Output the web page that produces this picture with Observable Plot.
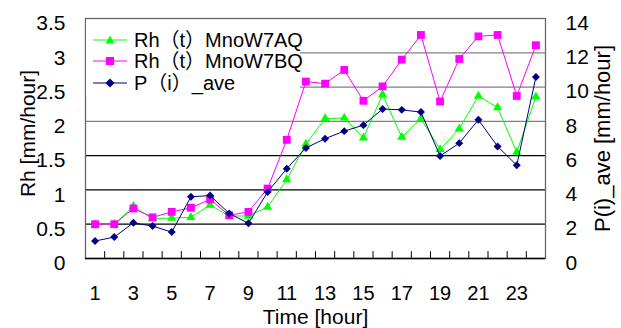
<!DOCTYPE html>
<html>
<head>
<meta charset="utf-8">
<script src="https://cdn.jsdelivr.net/npm/d3@7"></script>
<script src="https://cdn.jsdelivr.net/npm/@observablehq/plot@0.6"></script>
<style>
  html, body { margin: 0; padding: 0; background: #fff; }
  #wrap { position: relative; width: 621px; height: 328px; }
  #wrap svg { display: block; }
  #legend { position: absolute; left: 86px; top: 21px; width: 214px; height: 75px; background: #fff;
            font-family: "Liberation Sans", Arial, "Noto Sans CJK JP", sans-serif; font-size: 20px; color: #000; }
  .row { position: absolute; left: 0; height: 22px; display: flex; align-items: center; }
  .row svg { margin-left: 7px; margin-right: 7px; }
  .row span { line-height: 22px; white-space: nowrap; }
</style>
</head>
<body>
<div id="wrap"></div>
<script>
// ---- data ----
const hours = [1,2,3,4,5,6,7,8,9,10,11,12,13,14,15,16,17,18,19,20,21,22,23,24];
const rhAQ = [0.49,0.5,0.76,0.58,0.59,0.60,0.78,0.62,0.62,0.75,1.15,1.67,2.04,2.05,1.76,2.39,1.77,2.04,1.59,1.89,2.37,2.20,1.55,2.36];
const rhBQ = [0.5,0.5,0.73,0.60,0.68,0.74,0.86,0.63,0.68,1.02,1.73,2.58,2.55,2.75,2.30,2.51,2.90,3.26,2.29,2.91,3.24,3.26,2.37,3.11];
const pAve = [1.02,1.25,2.08,1.89,1.54,3.60,3.67,2.63,2.05,3.88,5.24,6.45,6.99,7.43,7.78,8.72,8.67,8.54,5.98,6.73,8.09,6.54,5.44,10.59];
const xTickLabels = [1,3,5,7,9,11,13,15,17,19,21,23];
const yTicks = [0,0.5,1,1.5,2,2.5,3,3.5];
const gridLow = [0.5,1,1.5];
const gridHigh = [2,2.5,3];
const catTicks = [1.5,2.5,3.5,4.5,5.5,6.5,7.5,8.5,9.5,10.5,11.5,12.5,13.5,14.5,15.5,16.5,17.5,18.5,19.5,20.5,21.5,22.5,23.5];
const seriesNames = ["Rh（t）MnoW7AQ", "Rh（t）MnoW7BQ", "P（i）_ave"];
const seriesColors = ["#00ff00", "#ff00ff", "#000080"];
const secondaryRatio = 4; // right axis (0-14) vs left axis (0-3.5)

const rows = hours.map((h, i) => ({hour: h, aq: rhAQ[i], bq: rhBQ[i], p: pAve[i]}));

const chart = Plot.plot({
  width: 621,
  height: 328,
  marginLeft: 85,
  marginRight: 76,
  marginTop: 18,
  marginBottom: 70,
  style: {fontFamily: "Liberation Sans, Arial, sans-serif", fontSize: "21px", background: "#fff", color: "#000"},
  x: {domain: [0.5, 24.5]},
  y: {domain: [0, 3.5]},
  marks: [
    Plot.ruleY(gridHigh, {stroke: "#808080", strokeWidth: 1.3}),
    Plot.ruleY(gridLow, {stroke: "#000", strokeWidth: 1.2}),
    Plot.frame({stroke: "#666", strokeWidth: 1.3}),
    Plot.ruleY([0], {stroke: "#000", strokeWidth: 1.3}),
    Plot.ruleX(catTicks, {y1: 0, y2: 0.1, stroke: "#000"}),
    Plot.axisX({ticks: xTickLabels, tickSize: 0, tickPadding: 27, fontSize: 20, label: null, tickFormat: d => String(d)}),
    Plot.axisY({anchor: "left", ticks: yTicks, tickSize: 0, tickPadding: 20, fontSize: 21, label: null, dy: 5, tickFormat: d => String(d)}),
    Plot.axisY({anchor: "right", ticks: yTicks, tickSize: 0, tickPadding: 20, fontSize: 21, label: null, dy: 4.5, tickFormat: d => String(d * secondaryRatio)}),
    Plot.text(["Time [hour]"], {frameAnchor: "bottom", text: d => d, dy: 59, fontSize: 21, lineAnchor: "middle", textAnchor: "middle"}),
    Plot.text(["Rh [mm/hour]"], {frameAnchor: "left", text: d => d, dx: -57, dy: -5, rotate: -90, fontSize: 21, textAnchor: "middle", lineAnchor: "middle"}),
    Plot.text(["P(i)_ave [mm/hour]"], {frameAnchor: "right", text: d => d, dx: 57, rotate: -90, fontSize: 22, textAnchor: "middle", lineAnchor: "middle"}),
    Plot.line(rows, {x: "hour", y: "aq", stroke: seriesColors[0], strokeWidth: 1}),
    Plot.dot(rows, {x: "hour", y: "aq", symbol: "triangle", r: 3.4, fill: seriesColors[0], stroke: "none"}),
    Plot.line(rows, {x: "hour", y: "bq", stroke: seriesColors[1], strokeWidth: 1}),
    Plot.dot(rows, {x: "hour", y: "bq", symbol: "square", r: 4.4, fill: seriesColors[1], stroke: "none"}),
    Plot.line(rows, {x: "hour", y: d => d.p / secondaryRatio, stroke: seriesColors[2], strokeWidth: 1}),
    Plot.dot(rows, {x: "hour", y: d => d.p / secondaryRatio, symbol: "diamond2", r: 3.6, fill: seriesColors[2], stroke: "none"})
  ]
});

const wrap = document.getElementById("wrap");
wrap.appendChild(chart);

// legend overlay
const legend = document.createElement("div");
legend.id = "legend";
const symbolPaths = [
  "M17,1.5 L21.5,9.5 L12.5,9.5 Z",
  "M13,2 L21,2 L21,10 L13,10 Z",
  "M17,1.5 L21.5,6 L17,10.5 L12.5,6 Z"
];
const rowTops = [8, 29, 51];
seriesNames.forEach((name, i) => {
  const r = document.createElement("div");
  r.className = "row";
  r.style.top = rowTops[i] + "px";
  r.innerHTML = `<svg width="34" height="12"><line x1="0" x2="34" y1="6" y2="6" stroke="${seriesColors[i]}" stroke-width="1"/><path d="${symbolPaths[i]}" fill="${seriesColors[i]}"/></svg><span>${name}</span>`;
  legend.appendChild(r);
});
wrap.appendChild(legend);
</script>
</body>
</html>
